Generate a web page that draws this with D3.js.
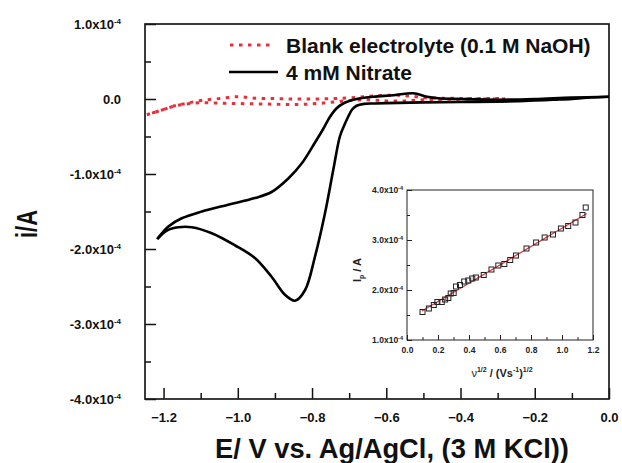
<!DOCTYPE html>
<html><head><meta charset="utf-8">
<script src="https://cdn.jsdelivr.net/npm/d3@7"></script>
<style>
body{margin:0;background:#fff;}
svg{display:block;font-family:"Liberation Sans",Arial,sans-serif;font-weight:bold;}
</style></head>
<body><svg id="c" width="622" height="463"></svg>
<script>
// ---- Data (main CV) ----
const cvFwdE = [0.0,-0.05,-0.1,-0.15,-0.2,-0.25,-0.3,-0.4,-0.5,-0.6,-0.635,-0.66,-0.68,-0.692,-0.703,-0.714,-0.725,-0.743,-0.765,-0.792,-0.819,-0.846,-0.873,-0.909,-0.954,-1.008,-1.07,-1.124,-1.16,-1.19,-1.217];
const cvFwdI = [0.03,0.02,0.0,-0.01,-0.02,-0.03,-0.035,-0.04,-0.045,-0.055,-0.06,-0.065,-0.09,-0.14,-0.24,-0.36,-0.50,-0.95,-1.52,-2.10,-2.55,-2.69,-2.61,-2.37,-2.12,-1.95,-1.79,-1.71,-1.71,-1.75,-1.867].map(v=>v*1e-4);
const cvRevE = [-1.217,-1.187,-1.151,-1.097,-1.026,-0.954,-0.909,-0.864,-0.828,-0.792,-0.77,-0.752,-0.735,-0.716,-0.68,-0.635,-0.58,-0.528,-0.49,-0.46,-0.4,-0.3,-0.2,-0.1,0.0];
const cvRevI = [-1.867,-1.70,-1.59,-1.50,-1.41,-1.32,-1.24,-1.06,-0.86,-0.58,-0.40,-0.24,-0.13,-0.06,0.0,0.03,0.05,0.076,0.03,0.01,0.0,-0.01,0.0,0.02,0.03].map(v=>v*1e-4);
// Blank electrolyte
const blankFwdE = [-0.28,-0.35,-0.45,-0.5,-0.55,-0.6,-0.65,-0.7,-0.75,-0.8,-0.85,-0.9,-0.95,-1.0,-1.05,-1.1,-1.14,-1.17,-1.2,-1.245];
const blankFwdI = [0.0,0.0,-0.005,-0.01,-0.025,-0.025,-0.01,-0.02,-0.045,-0.065,-0.075,-0.07,-0.065,-0.06,-0.055,-0.05,-0.067,-0.093,-0.14,-0.21].map(v=>v*1e-4);
const blankRevE = [-1.245,-1.2,-1.17,-1.14,-1.1,-1.05,-1.0,-0.95,-0.9,-0.85,-0.8,-0.75,-0.7,-0.65,-0.6,-0.55,-0.5,-0.45,-0.35,-0.28];
const blankRevI = [-0.21,-0.14,-0.09,-0.06,-0.02,0.005,0.03,0.01,0.005,0.0,0.0,0.005,0.015,0.035,0.05,0.045,0.02,0.01,0.008,0.005].map(v=>v*1e-4);
// Inset data
const insetX = [0.100,0.141,0.173,0.196,0.224,0.246,0.267,0.282,0.301,0.316,0.342,0.369,0.395,0.421,0.444,0.495,0.545,0.589,0.628,0.666,0.703,0.771,0.833,0.888,0.942,0.993,1.040,1.087,1.132,1.153];
const insetY = [1.56,1.63,1.70,1.76,1.76,1.81,1.84,1.93,1.94,2.07,2.10,2.17,2.19,2.23,2.25,2.30,2.41,2.49,2.52,2.60,2.69,2.83,2.95,3.05,3.11,3.23,3.28,3.35,3.50,3.65].map(v=>v*1e-4);
const fitX = [0.096,1.16];
const fitY = [1.58e-4,3.53e-4];
// Ticks
const xTicks = [-1.2,-1.0,-0.8,-0.6,-0.4,-0.2,0.0];
const xMinor = [-1.1,-0.9,-0.7,-0.5,-0.3,-0.1];
const yTicks = [1e-4,0,-1e-4,-2e-4,-3e-4,-4e-4];
const yTickLabels = ["1.0x10|-4","0.0","-1.0x10|-4","-2.0x10|-4","-3.0x10|-4","-4.0x10|-4"];
const yMinor = [0.5e-4,-0.5e-4,-1.5e-4,-2.5e-4,-3.5e-4];
const inXTicks = [0,0.2,0.4,0.6,0.8,1.0,1.2];
const inXMinor = [0.1,0.3,0.5,0.7,0.9,1.1];
const inYTicks = [1e-4,2e-4,3e-4,4e-4];
const inYTickLabels = ["1.0x10|-4","2.0x10|-4","3.0x10|-4","4.0x10|-4"];
const inYMinor = [1.5e-4,2.5e-4,3.5e-4];
const legendLabels = ["Blank electrolyte (0.1 M NaOH)","4 mM Nitrate"];

const svg = d3.select("#c");
const L=145,R=609,T=24,B=399;
const x = d3.scaleLinear().domain([-1.25,0]).range([L,R]);
const y = d3.scaleLinear().domain([-4e-4,1e-4]).range([B,T]);

function supLabel(sel, txt, supSize){
  const parts = txt.split("|");
  sel.text(null);
  sel.append("tspan").text(parts[0]);
  if(parts[1]) sel.append("tspan").attr("font-size",supSize).attr("dy","-0.6em").text(parts[1]);
}

// axes
const gx = svg.append("g").attr("transform",`translate(0,${B})`)
  .call(d3.axisBottom(x).tickValues(xTicks).tickSize(-11).tickPadding(14).tickFormat(d3.format(".1f")));
gx.select(".domain").remove();
gx.selectAll("text").attr("font-size",13).attr("font-family","Liberation Sans, Arial").attr("font-weight","bold").attr("fill","#111");
const gxm = svg.append("g").attr("transform",`translate(0,${B})`)
  .call(d3.axisBottom(x).tickValues(xMinor).tickSize(-6).tickFormat(""));
gxm.select(".domain").remove();

const gy = svg.append("g").attr("transform",`translate(${L},0)`)
  .call(d3.axisLeft(y).tickValues(yTicks).tickSize(-11).tickPadding(24));
gy.select(".domain").remove();
gy.selectAll("text").attr("font-size",13).attr("font-family","Liberation Sans, Arial").attr("font-weight","bold").attr("fill","#111")
  .each(function(d){ supLabel(d3.select(this), yTickLabels[yTicks.indexOf(d)], 8); });
const gym = svg.append("g").attr("transform",`translate(${L},0)`)
  .call(d3.axisLeft(y).tickValues(yMinor).tickSize(-6).tickFormat(""));
gym.select(".domain").remove();
[gx,gxm,gy,gym].forEach(g=>g.selectAll("line").attr("stroke","#111").attr("stroke-width",1.5));

svg.append("rect").attr("x",L).attr("y",T).attr("width",R-L).attr("height",B-T)
  .attr("fill","none").attr("stroke","#1a1a1a").attr("stroke-width",1.7);

// axis titles
svg.append("text").attr("x",392).attr("y",458).attr("text-anchor","middle")
  .attr("font-size",27.3).attr("fill","#111").text("E/ V vs. Ag/AgCl, (3 M KCl))");
svg.append("text").attr("transform","translate(36.5,224) rotate(-90)").attr("text-anchor","middle")
  .attr("font-size",29).attr("textLength",28).attr("lengthAdjust","spacingAndGlyphs").attr("fill","#111").text("i/A");

// curves
const line = (xs,ys,sx,sy)=>d3.line().curve(d3.curveCatmullRom.alpha(0.5)).x(i=>sx(xs[i])).y(i=>sy(ys[i]))(d3.range(xs.length));
const blankStyle = s=>s.attr("fill","none").attr("stroke","#e8303a").attr("stroke-width",3).attr("stroke-dasharray","3.5,5.5");
svg.append("path").attr("d",line(blankFwdE,blankFwdI,x,y)).call(blankStyle);
svg.append("path").attr("d",line(blankRevE,blankRevI,x,y)).call(blankStyle);
const cvStyle = s=>s.attr("fill","none").attr("stroke","#000").attr("stroke-width",2.6).attr("stroke-linejoin","round");
svg.append("path").attr("d",line(cvFwdE,cvFwdI,x,y)).call(cvStyle);
svg.append("path").attr("d",line(cvRevE,cvRevI,x,y)).call(cvStyle);

// legend
svg.append("line").attr("x1",230).attr("x2",275).attr("y1",45).attr("y2",45).call(blankStyle);
svg.append("line").attr("x1",229).attr("x2",278).attr("y1",72).attr("y2",72).call(cvStyle);
svg.append("text").attr("x",286).attr("y",53).attr("font-size",21).attr("fill","#111").text(legendLabels[0]);
svg.append("text").attr("x",286).attr("y",80).attr("font-size",21).attr("fill","#111").text(legendLabels[1]);

// ---- inset ----
const iL=407,iR=593,iT=190,iB=340;
const ix = d3.scaleLinear().domain([0,1.2]).range([iL,iR]);
const iy = d3.scaleLinear().domain([1e-4,4e-4]).range([iB,iT]);
svg.append("rect").attr("x",iL).attr("y",iT).attr("width",iR-iL).attr("height",iB-iT).attr("fill","#fff");
const igx = svg.append("g").attr("transform",`translate(0,${iB})`)
  .call(d3.axisBottom(ix).tickValues(inXTicks).tickSize(-5).tickPadding(7).tickFormat(d3.format(".1f")));
igx.select(".domain").remove();
igx.selectAll("text").attr("font-size",8.5).attr("font-family","Liberation Sans, Arial").attr("font-weight","bold").attr("fill","#222");
const igxm = svg.append("g").attr("transform",`translate(0,${iB})`)
  .call(d3.axisBottom(ix).tickValues(inXMinor).tickSize(-3).tickFormat(""));
igxm.select(".domain").remove();
const igy = svg.append("g").attr("transform",`translate(${iL},0)`)
  .call(d3.axisLeft(iy).tickValues(inYTicks).tickSize(-5).tickPadding(4));
igy.select(".domain").remove();
igy.selectAll("text").attr("font-size",8.5).attr("font-family","Liberation Sans, Arial").attr("font-weight","bold").attr("fill","#222")
  .each(function(d){ supLabel(d3.select(this), inYTickLabels[inYTicks.indexOf(d)], 5.5); });
const igym = svg.append("g").attr("transform",`translate(${iL},0)`)
  .call(d3.axisLeft(iy).tickValues(inYMinor).tickSize(-3).tickFormat(""));
igym.select(".domain").remove();
[igx,igxm,igy,igym].forEach(g=>g.selectAll("line").attr("stroke","#222").attr("stroke-width",1));
svg.append("rect").attr("x",iL).attr("y",iT).attr("width",iR-iL).attr("height",iB-iT)
  .attr("fill","none").attr("stroke","#222").attr("stroke-width",1);

svg.append("path").attr("d",d3.line().x(i=>ix(fitX[i])).y(i=>iy(fitY[i]))([0,1]))
  .attr("stroke","#e0393e").attr("stroke-width",1.3).attr("fill","none");
svg.append("g").selectAll("rect").data(d3.range(insetX.length)).join("rect")
  .attr("x",i=>ix(insetX[i])-2.5).attr("y",i=>iy(insetY[i])-2.5).attr("width",5).attr("height",5)
  .attr("fill","none").attr("stroke","#222").attr("stroke-width",1);

// inset labels
const ixl = svg.append("text").attr("x",502).attr("y",377).attr("text-anchor","middle").attr("font-size",11).attr("fill","#222");
ixl.append("tspan").attr("font-weight","normal").text("\u03BD");
ixl.append("tspan").attr("font-size",7).attr("dy",-5).text("1/2");
ixl.append("tspan").attr("dy",5).text(" / (Vs");
ixl.append("tspan").attr("font-size",7).attr("dy",-5).text("-1");
ixl.append("tspan").attr("dy",5).text(")");
ixl.append("tspan").attr("font-size",7).attr("dy",-5).text("1/2");
const iyl = svg.append("text").attr("transform","translate(361,270) rotate(-90)").attr("text-anchor","middle").attr("font-size",11).attr("fill","#222");
iyl.append("tspan").text("I");
iyl.append("tspan").attr("font-size",7).attr("dy",3).text("p");
iyl.append("tspan").attr("dy",-3).text(" / A");
</script></body></html>
